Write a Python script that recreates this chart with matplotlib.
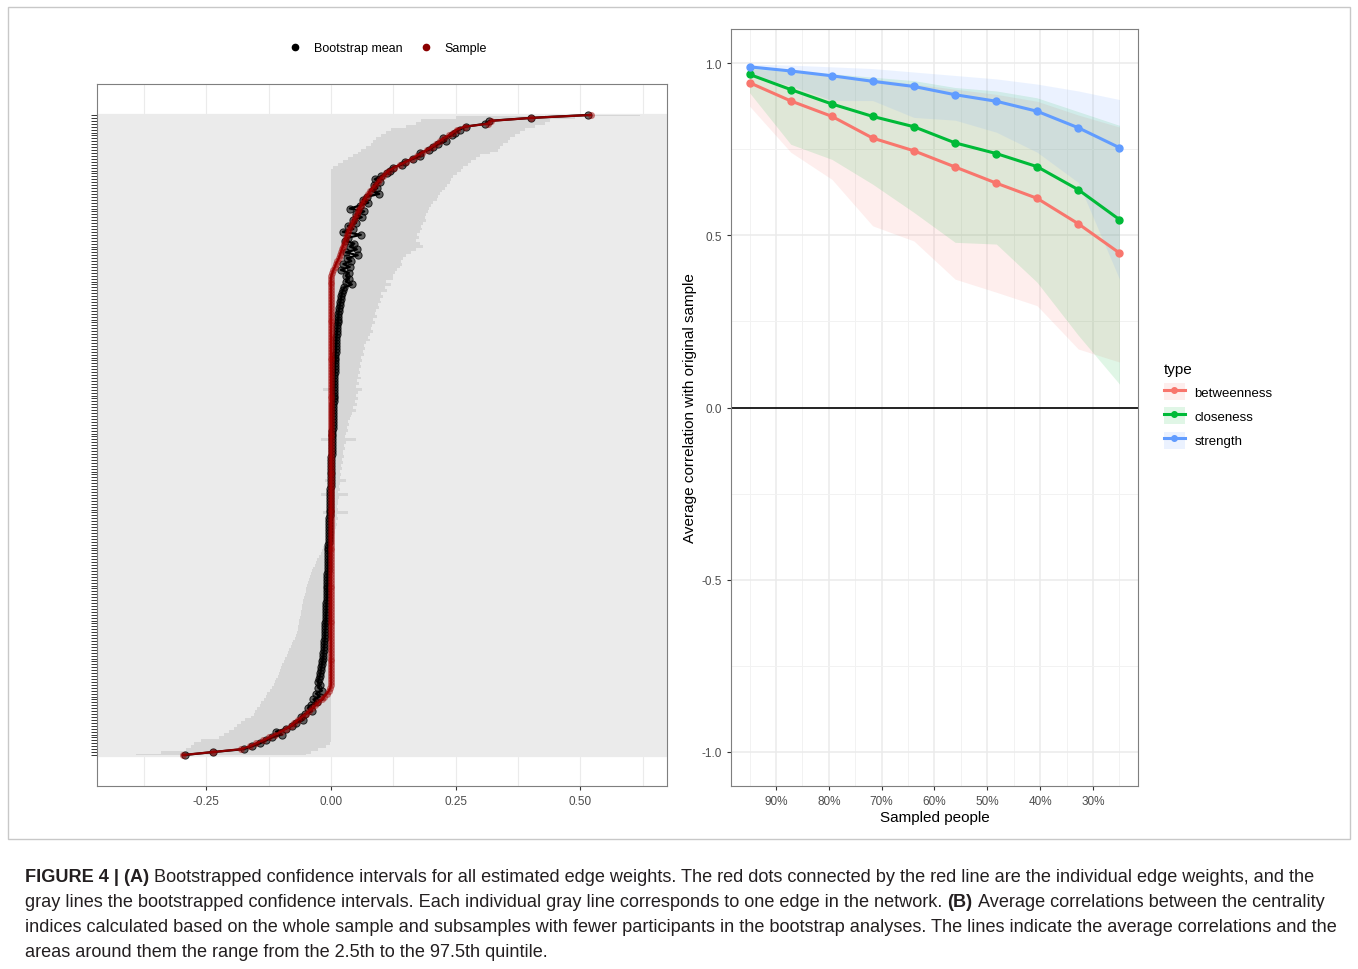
import numpy as np
import matplotlib.pyplot as plt
from matplotlib.lines import Line2D
from matplotlib.patches import Patch, Rectangle

plt.rcParams['font.family'] = ['Liberation Sans', 'DejaVu Sans']
plt.rcParams['axes.unicode_minus'] = False

# ---------------- panel A : edge weights (sorted, top = largest) ----------------
sample_pos = [0.521, 0.401, 0.322, 0.315, 0.268, 0.252, 0.245, 0.236, 0.226, 0.218,
              0.210, 0.202, 0.192, 0.182, 0.172, 0.162, 0.151, 0.138, 0.127, 0.117,
              0.110, 0.104, 0.099, 0.094, 0.089, 0.084, 0.079, 0.075, 0.071, 0.067,
              0.063, 0.060, 0.057, 0.055, 0.052, 0.049, 0.046, 0.043, 0.040, 0.037,
              0.034, 0.032, 0.030, 0.028, 0.026, 0.024, 0.022, 0.020, 0.018, 0.016,
              0.013, 0.010, 0.008, 0.005, 0.003, 0.001]
n_zero_edges = 140
sample_neg = [-0.001, -0.004, -0.008, -0.013, -0.018, -0.025, -0.031, -0.037, -0.044, -0.050,
              -0.058, -0.066, -0.073, -0.080, -0.090, -0.100, -0.112, -0.124, -0.136, -0.150,
              -0.162, -0.180, -0.237, -0.297]

mean_pos = [0.515, 0.401, 0.318, 0.310, 0.270, 0.258, 0.248, 0.242, 0.225, 0.230,
            0.215, 0.205, 0.196, 0.178, 0.178, 0.165, 0.148, 0.142, 0.124, 0.118,
            0.112, 0.100, 0.088, 0.098, 0.086, 0.093, 0.083, 0.097, 0.072, 0.064,
            0.075, 0.058, 0.038, 0.067, 0.050, 0.062, 0.044, 0.050, 0.034, 0.045,
            0.024, 0.060, 0.034, 0.028, 0.047, 0.038, 0.052, 0.030, 0.054, 0.032,
            0.041, 0.025, 0.038, 0.020, 0.036, 0.030]
mean_zero = [0.036, 0.030, 0.042, 0.027, 0.024, 0.022, 0.021, 0.020, 0.019, 0.018,
             0.017, 0.016, 0.015, 0.015, 0.014, 0.014, 0.013, 0.013, 0.012, 0.012,
             0.011, 0.011, 0.011, 0.010, 0.010, 0.010, 0.009, 0.009, 0.009, 0.008,
             0.008, 0.008, 0.008, 0.007, 0.007, 0.007, 0.007, 0.007, 0.006, 0.006,
             0.006, 0.006, 0.006, 0.005, 0.005, 0.005, 0.005, 0.004, 0.004, 0.004,
             0.004, 0.004, 0.003, 0.003, 0.003, 0.003, 0.002, 0.002, 0.002, 0.002,
             0.002, 0.001, 0.001, 0.001, 0.001, 0.001, 0.000, 0.000, 0.000, 0.000,
             0.000, 0.000, -0.001, -0.001, -0.001, -0.001, -0.001, -0.002, -0.002, -0.002,
             -0.002, -0.002, -0.003, -0.003, -0.003, -0.003, -0.004, -0.004, -0.004, -0.004,
             -0.004, -0.005, -0.005, -0.005, -0.005, -0.005, -0.006, -0.006, -0.006, -0.006,
             -0.006, -0.007, -0.007, -0.007, -0.007, -0.007, -0.008, -0.008, -0.008, -0.008,
             -0.008, -0.009, -0.009, -0.009, -0.009, -0.010, -0.010, -0.010, -0.011, -0.011,
             -0.011, -0.012, -0.012, -0.012, -0.013, -0.013, -0.014, -0.014, -0.015, -0.015,
             -0.016, -0.017, -0.018, -0.019, -0.020, -0.021, -0.022, -0.024, -0.026, -0.022]
mean_neg = [-0.025, -0.018, -0.030, -0.022, -0.035, -0.028, -0.040, -0.046, -0.038, -0.052,
            -0.060, -0.056, -0.070, -0.078, -0.090, -0.110, -0.098, -0.118, -0.130, -0.142,
            -0.158, -0.175, -0.237, -0.293]

ci_lo_pos = [0.43, 0.25, 0.18, 0.17, 0.15, 0.12, 0.11, 0.10, 0.09, 0.085,
             0.08, 0.07, 0.06, 0.055, 0.045, 0.035, 0.025, 0.015, 0.005] + [0.0] * 37
ci_hi_pos = [0.62, 0.49, 0.44, 0.43, 0.41, 0.39, 0.38, 0.37, 0.36, 0.355,
             0.345, 0.34, 0.335, 0.32, 0.30, 0.29, 0.28, 0.275, 0.265, 0.26,
             0.252, 0.245, 0.24, 0.238, 0.232, 0.228, 0.222, 0.218, 0.214, 0.212,
             0.205, 0.20, 0.196, 0.194, 0.19, 0.188, 0.19, 0.185, 0.18, 0.182,
             0.178, 0.172, 0.176, 0.17, 0.178, 0.184, 0.17, 0.16, 0.15, 0.145,
             0.14, 0.142, 0.138, 0.132, 0.128, 0.125]
ci_lo_zero = ([0.0] * 38 + [-0.015, 0.0] + [0.0] * 10 +
              [0, 0, 0, 0, 0, -0.02, 0, 0, 0, 0] +
              [0, 0, 0, 0, 0, 0, 0, 0, 0, -0.012] +
              [0, 0, 0, 0, -0.02, 0, 0, 0, 0, 0] +
              [-0.015, 0, -0.01, 0, 0, 0, 0, -0.002, -0.004, -0.006] +
              [-0.008, -0.012, -0.015, -0.018, -0.020, -0.024, -0.028, -0.030, -0.032, -0.035] +
              [-0.038, -0.040, -0.042, -0.044, -0.046, -0.048, -0.050, -0.050, -0.052, -0.054] +
              [-0.055, -0.056, -0.058, -0.057, -0.060, -0.060, -0.062, -0.064, -0.063, -0.066] +
              [-0.065, -0.068, -0.070, -0.072, -0.075, -0.078, -0.080, -0.083, -0.086, -0.089] +
              [-0.092, -0.095, -0.098, -0.100, -0.102, -0.105, -0.107, -0.110, -0.112, -0.115])
ci_hi_zero = ([0.125, 0.110, 0.120, 0.108, 0.112, 0.100, 0.104, 0.098, 0.100, 0.094,
               0.096, 0.090, 0.088, 0.092, 0.085, 0.088, 0.082, 0.080, 0.084, 0.078,
               0.075, 0.078, 0.070, 0.066, 0.068, 0.064, 0.066, 0.060, 0.062, 0.058,
               0.060, 0.056, 0.058, 0.055, 0.060, 0.052, 0.056, 0.050, 0.062, 0.054,
               0.050, 0.055, 0.048, 0.052, 0.045, 0.050, 0.042, 0.040, 0.038, 0.035,
               0.036, 0.032, 0.034, 0.030, 0.028, 0.050, 0.030, 0.026, 0.028, 0.025,
               0.024, 0.026, 0.022, 0.025, 0.020, 0.022, 0.019, 0.020, 0.018, 0.030,
               0.018, 0.016, 0.018, 0.015, 0.035, 0.016, 0.014, 0.015, 0.013, 0.014,
               0.035, 0.012, 0.014, 0.011, 0.012, 0.010, 0.009, 0.008, 0.006, 0.004,
               0.003, 0.002, 0.002, 0.001, 0.0, 0.0, 0.0, 0.0, 0.0, 0.0] + [0.0] * 40)
ci_lo_neg = [-0.118, -0.122, -0.128, -0.130, -0.135, -0.140, -0.142, -0.148, -0.152, -0.155,
             -0.160, -0.172, -0.180, -0.188, -0.195, -0.205, -0.215, -0.225, -0.260, -0.275,
             -0.280, -0.290, -0.340, -0.390]
ci_hi_neg = [0.0] * 19 + [-0.002, -0.010, -0.025, -0.040, -0.050]

sample = np.array(sample_pos + [0.0] * n_zero_edges + sample_neg)
boot_mean = np.array(mean_pos + mean_zero + mean_neg)
ci_lo = np.array(ci_lo_pos + ci_lo_zero + ci_lo_neg)
ci_hi = np.array(ci_hi_pos + ci_hi_zero + ci_hi_neg)

# ---------------- panel B : case-dropping stability ----------------
sampled = [95.0, 87.2, 79.4, 71.7, 63.9, 56.1, 48.3, 40.6, 32.8, 25.0]
betweenness = [0.944, 0.891, 0.846, 0.783, 0.746, 0.699, 0.652, 0.608, 0.534, 0.449]
closeness = [0.968, 0.924, 0.882, 0.846, 0.816, 0.769, 0.738, 0.700, 0.633, 0.546]
strength = [0.990, 0.978, 0.964, 0.948, 0.933, 0.909, 0.890, 0.861, 0.813, 0.755]
betw_lo = [0.876, 0.742, 0.663, 0.528, 0.484, 0.373, 0.335, 0.296, 0.170, 0.132]
betw_hi = [0.985, 0.975, 0.965, 0.955, 0.940, 0.925, 0.910, 0.890, 0.850, 0.815]
clos_lo = [0.915, 0.765, 0.721, 0.649, 0.567, 0.480, 0.475, 0.364, 0.210, 0.068]
clos_hi = [0.990, 0.980, 0.970, 0.960, 0.950, 0.930, 0.920, 0.900, 0.860, 0.820]
str_lo = [0.965, 0.935, 0.892, 0.892, 0.843, 0.835, 0.800, 0.742, 0.654, 0.373]
str_hi = [0.998, 0.995, 0.990, 0.985, 0.975, 0.965, 0.955, 0.940, 0.920, 0.895]
types = ['betweenness', 'closeness', 'strength']
type_colors = ['#F8766D', '#00BA38', '#619CFF']

W, H = 1358, 970
fig = plt.figure(figsize=(W / 100, H / 100), dpi=100)

# ---- panel A
axA = fig.add_axes([97 / W, 1 - 787 / H, 570 / W, 702 / H])
n = len(sample)
rows = np.arange(n)[::-1]
row_px = 640 / (n - 1)
axA.fill_betweenx(rows, ci_lo, ci_hi, step='mid', color='#D6D6D6', lw=0, zorder=1)
axA.plot(boot_mean, rows, '-', color='black', lw=1.6, zorder=2)
axA.plot(boot_mean, rows, 'o', ms=5.2, mfc=(0, 0, 0, 0.55), mec=(0, 0, 0, 0.8), mew=0.7, zorder=3)
axA.plot(sample, rows, '-', color='#8B0000', lw=1.6, zorder=4)
axA.plot(sample, rows, 'o', ms=5.0, color='#A00000', alpha=0.5, mew=0, zorder=5)

axA.set_yticks(rows)
axA.set_yticklabels([])
axA.tick_params(axis='y', length=4, width=0.7, color='#333333')
axA.set_xticks([-0.25, 0.0, 0.25, 0.50])
axA.set_xticklabels(['-0.25', '0.00', '0.25', '0.50'])
axA.set_xticks([-0.375, -0.125, 0.125, 0.375, 0.625], minor=True)
axA.tick_params(axis='x', which='major', length=3, color='#333333', labelsize=8.5,
                labelcolor='#4D4D4D')
axA.tick_params(axis='x', which='minor', length=0)
axA.grid(axis='y', color='#EBEBEB', lw=row_px * 0.72 + 0.2)
axA.grid(axis='x', which='both', color='#EBEBEB', lw=0.8)
axA.set_axisbelow(True)
axA.set_xlim(-0.469, 0.674)
pad = 31 / row_px
axA.set_ylim(-pad, n - 1 + pad)
for s in axA.spines.values():
    s.set_color('#7F7F7F')
    s.set_linewidth(0.8)

handlesA = [Line2D([], [], ls='', marker='o', ms=4.5, color='black', label='Bootstrap mean'),
            Line2D([], [], ls='', marker='o', ms=4.5, color='#8B0000', label='Sample')]
fig.legend(handles=handlesA, loc='center', bbox_to_anchor=(388 / W, 1 - 49 / H), ncol=2,
           frameon=False, fontsize=9.0, handletextpad=1.0, columnspacing=1.4, handlelength=1.0)

# ---- panel B
axB = fig.add_axes([731 / W, 1 - 787 / H, 407 / W, 757 / H])
series = [(betweenness, betw_lo, betw_hi), (closeness, clos_lo, clos_hi), (strength, str_lo, str_hi)]
handlesB = []
for (vals, lo, hi), name, col in zip(series, types, type_colors):
    axB.fill_between(sampled, lo, hi, color=col, alpha=0.12, lw=0, zorder=1)
for (vals, lo, hi), name, col in zip(series, types, type_colors):
    axB.plot(sampled, vals, '-o', color=col, lw=2.2, ms=5, zorder=3)
    handlesB.append((Patch(facecolor=col, alpha=0.12, lw=0),
                     Line2D([], [], color=col, lw=2.2, marker='o', ms=4)))
axB.axhline(0, color='black', lw=1.2, zorder=2)
axB.set_xlim(98.5, 21.5)
axB.set_ylim(-1.1, 1.1)
axB.set_xticks([90, 80, 70, 60, 50, 40, 30])
axB.set_xticklabels(['90%', '80%', '70%', '60%', '50%', '40%', '30%'])
axB.set_xticks([95, 85, 75, 65, 55, 45, 35, 25], minor=True)
axB.set_yticks([-1.0, -0.5, 0.0, 0.5, 1.0])
axB.set_yticklabels(['-1.0', '-0.5', '0.0', '0.5', '1.0'])
axB.set_yticks([-0.75, -0.25, 0.25, 0.75], minor=True)
axB.tick_params(which='major', length=3, color='#333333', labelsize=8.5, labelcolor='#4D4D4D')
axB.tick_params(which='minor', length=0)
axB.grid(which='major', color='#EBEBEB', lw=1.1)
axB.grid(which='minor', color='#F2F2F2', lw=0.7)
axB.set_axisbelow(True)
for s in axB.spines.values():
    s.set_color('#7F7F7F')
    s.set_linewidth(0.8)
axB.set_xlabel('Sampled people', fontsize=11, labelpad=2)
axB.set_ylabel('Average correlation with original sample', fontsize=11, labelpad=3)

legB = fig.legend(handles=handlesB, labels=types, title='type', loc='upper left',
                  bbox_to_anchor=(1152 / W, 1 - 351 / H), frameon=False, fontsize=9.5,
                  title_fontsize=11, alignment='left', handlelength=1.6, handleheight=1.6,
                  labelspacing=0.55, handletextpad=0.7)

# ---- frame and caption
fig.add_artist(Rectangle((8 / W, 1 - 840 / H), 1342 / W, 832 / H, transform=fig.transFigure,
                         fill=False, ec='#C8C8C8', lw=1))

caption = [
    [('FIGURE 4 | (A)', True), ('Bootstrapped confidence intervals for all estimated edge weights. '
     'The red dots connected by the red line are the individual edge weights, and the', False)],
    [('gray lines the bootstrapped confidence intervals. Each individual gray line corresponds '
      'to one edge in the network.', False), ('(B)', True),
     ('Average correlations between the centrality', False)],
    [('indices calculated based on the whole sample and subsamples with fewer participants in '
      'the bootstrap analyses. The lines indicate the average correlations and the', False)],
    [('areas around them the range from the 2.5th to the 97.5th quintile.', False)],
]
renderer = fig.canvas.get_renderer()
cap_size = 13.1
sp = fig.text(0, 0, 'a a', fontsize=cap_size)
sp2 = fig.text(0, 0, 'aa', fontsize=cap_size)
space_w = (sp.get_window_extent(renderer).width - sp2.get_window_extent(renderer).width)
sp.remove()
sp2.remove()
for k, parts in enumerate(caption):
    x = 25
    y = 878 + k * 25
    for j, (txt, bold) in enumerate(parts):
        if j > 0:
            x += space_w
        t = fig.text(x / W, 1 - y / H, txt, fontsize=cap_size, va='center', ha='left',
                     fontweight='bold' if bold else 'normal', color='#231F20')
        x += t.get_window_extent(renderer).width

fig.savefig('out.png', dpi=100)
